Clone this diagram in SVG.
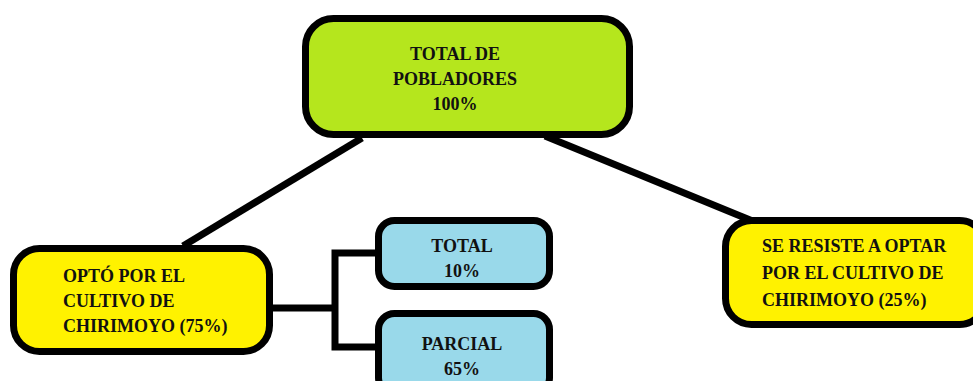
<svg xmlns="http://www.w3.org/2000/svg" width="973" height="381" viewBox="0 0 973 381">
<style>
.box{stroke:#000;stroke-width:7}
.green{fill:#b5e61d}
.yellow{fill:#fff200}
.blue{fill:#99d9ea}
.t{font-family:"Liberation Serif","Times New Roman",serif;font-weight:bold;font-size:18px;fill:#111}
.c{text-anchor:middle}
.line{stroke:#000;stroke-width:7;fill:none}
</style>
<rect width="973" height="381" fill="#fff"/>
<g id="connectors">
<line class="line" x1="362" y1="138" x2="183" y2="246"/>
<line class="line" x1="545" y1="136" x2="755" y2="222"/>
<line class="line" x1="272" y1="308" x2="335" y2="308"/>
<polyline class="line" points="376,253 335,253 335,347 376,347"/>
</g>
<g id="total-pobladores">
<rect class="box green" x="305.5" y="18.5" width="324" height="116" rx="28"/>
<text class="t c" x="455" y="60">TOTAL DE</text>
<text class="t c" x="455" y="85">POBLADORES</text>
<text class="t c" x="455" y="110">100%</text>
</g>
<g id="opto">
<rect class="box yellow" x="13.5" y="248.5" width="256" height="103" rx="26"/>
<text class="t" x="63" y="282">OPTÓ POR EL</text>
<text class="t" x="63" y="307">CULTIVO DE</text>
<text class="t" x="63" y="332">CHIRIMOYO (75%)</text>
</g>
<g id="total">
<rect class="box blue" x="378.5" y="220.5" width="171" height="66" rx="16"/>
<text class="t c" x="462" y="252">TOTAL</text>
<text class="t c" x="462" y="277">10%</text>
</g>
<g id="parcial">
<rect class="box blue" x="378.5" y="313.5" width="171" height="80" rx="16"/>
<text class="t c" x="462" y="350">PARCIAL</text>
<text class="t c" x="462" y="375">65%</text>
</g>
<g id="resiste">
<rect class="box yellow" x="725.5" y="220.5" width="260" height="104" rx="26"/>
<text class="t" x="762" y="252">SE RESISTE A OPTAR</text>
<text class="t" x="762" y="279">POR EL CULTIVO DE</text>
<text class="t" x="762" y="306">CHIRIMOYO (25%)</text>
</g>
</svg>
